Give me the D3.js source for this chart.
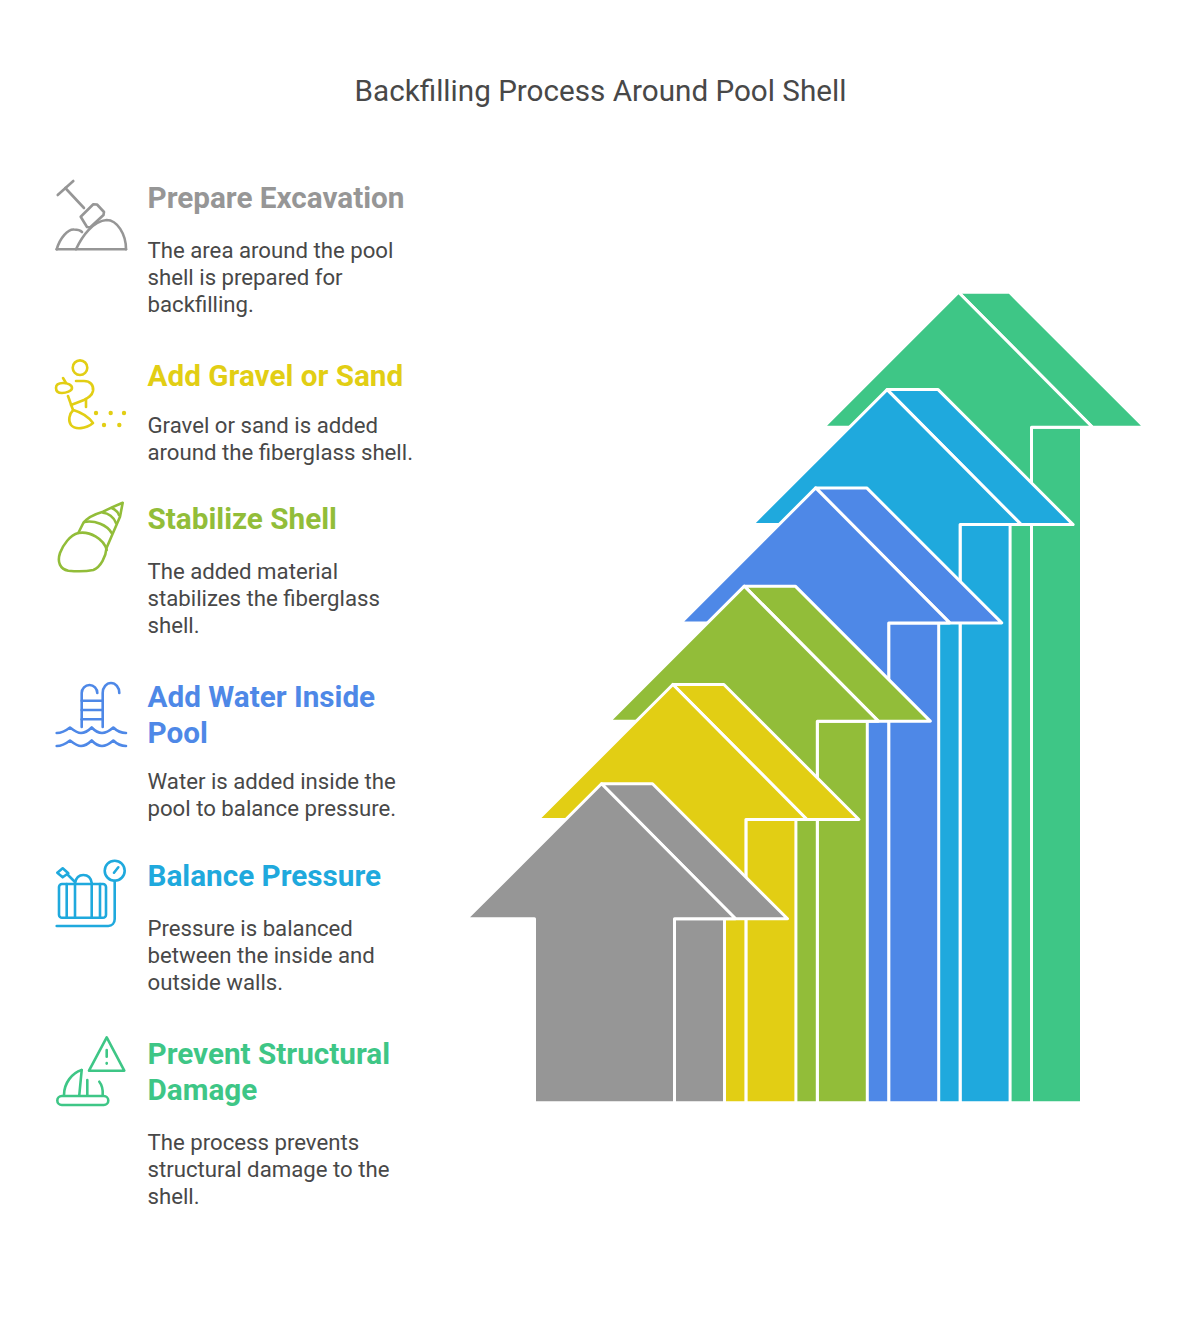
<!DOCTYPE html>
<html>
<head>
<meta charset="utf-8">
<script src="https://cdn.jsdelivr.net/npm/d3@7"></script>
<style>
  html, body { margin: 0; padding: 0; background: #fff; }
  svg { display: block; }
  text { font-family: Roboto, sans-serif; }
</style>
</head>
<body>
<div id="chart"></div>
<script>
var svgWidth = 1200;
var svgHeight = 1322;

// steps, first (front arrow) to last (back arrow)
var stepKeys = ["excavation", "gravel", "stabilize", "water", "pressure", "damage"];
var stepTitles = [
  ["Prepare Excavation"],
  ["Add Gravel or Sand"],
  ["Stabilize Shell"],
  ["Add Water Inside", "Pool"],
  ["Balance Pressure"],
  ["Prevent Structural", "Damage"]
];
var stepTexts = [
  ["The area around the pool", "shell is prepared for", "backfilling."],
  ["Gravel or sand is added", "around the fiberglass shell."],
  ["The added material", "stabilizes the fiberglass", "shell."],
  ["Water is added inside the", "pool to balance pressure."],
  ["Pressure is balanced", "between the inside and", "outside walls."],
  ["The process prevents", "structural damage to the", "shell."]
];
var stepColors = ["#969696", "#E2CE14", "#92BD39", "#4E88E7", "#1FA9DD", "#3EC686"];
// arrow height above the baseline
var arrowHeights = [318, 417, 515, 613, 711, 808];

// baseline of each block's title
var titleBaselines = [208, 386, 529, 707, 886, 1064];
var titleLeading = 36;
// title to body distance, tighter for the two line bodies
var bodyGaps = [50, 47, 50, 46, 50, 50];
var bodyLeading = 27;

var xArrow = d3.scalePoint().domain(stepKeys).range([601.5, 958.5]);
var yArrow = d3.scaleLinear().domain([0, 808]).range([1102.7, 292.3]);

var svg = d3.select("#chart")
  .append("svg")
  .attr("width", svgWidth)
  .attr("height", svgHeight);

svg.append("text")
  .attr("x", 600.5)
  .attr("y", 101)
  .attr("text-anchor", "middle")
  .attr("font-size", 29.65)
  .attr("fill", "#484848")
  .text("Backfilling Process Around Pool Shell");

// arrow shape, offsets from the apex
var head = { left: -135, top: 51, right: 186, drop: 135, ridge: 134 };
var stem = { left: -67, split: 73, right: 123 };
var line = d3.line();

function frontFace(d) {
  var x = xArrow(d.key), y = yArrow(d.height), wing = y + head.drop, base = yArrow(0);
  return line([
    [x + head.left, wing], [x, y], [x + head.ridge, wing], [x + stem.split, wing],
    [x + stem.split, base], [x + stem.left, base], [x + stem.left, wing]
  ]) + "Z";
}
function sideFace(d) {
  var x = xArrow(d.key), y = yArrow(d.height), wing = y + head.drop, base = yArrow(0);
  return line([
    [x, y], [x + head.top, y], [x + head.right, wing], [x + stem.right, wing],
    [x + stem.right, base], [x + stem.split, base], [x + stem.split, wing], [x + head.ridge, wing]
  ]) + "Z";
}

var arrowData = stepKeys.map(function(key, i) {
  return { key: key, height: arrowHeights[i], color: stepColors[i] };
}).reverse();

var arrows = svg.selectAll("g.arrow")
  .data(arrowData)
  .enter()
  .append("g")
  .attr("class", "arrow")
  .attr("fill", d => d.color)
  .attr("stroke", "#fff")
  .attr("stroke-width", 3)
  .attr("stroke-linejoin", "round");

arrows.append("path").attr("d", sideFace);
arrows.append("path").attr("d", frontFace);

// text blocks
stepKeys.forEach(function(key, i) {
  var group = svg.append("g").attr("class", "step-" + key);
  var y = titleBaselines[i];
  stepTitles[i].forEach(function(t, j) {
    group.append("text")
      .attr("x", 147.5)
      .attr("y", y + j * titleLeading)
      .attr("font-size", 29.7)
      .attr("font-weight", 700)
      .attr("fill", stepColors[i])
      .text(t);
  });
  var bodyTop = y + (stepTitles[i].length - 1) * titleLeading + bodyGaps[i];
  stepTexts[i].forEach(function(t, j) {
    group.append("text")
      .attr("x", 147.5)
      .attr("y", bodyTop + j * bodyLeading)
      .attr("font-size", 22.2)
      .attr("fill", "#484848")
      .text(t);
  });
});

// line icons
var iconPaths = [
  [
    "M57.7,195L73.3,181", "M65.3,188L84,208",
    "M80.7,216.7L93.3,204.3L97,204.5L104,212L103.5,215L90,227.5L87,227Z",
    "M56.7,249.3H126",
    "M76,249.3C82,236 93,221 106.7,220C117,220 126,234 126,249.3",
    "M56.7,249.3C60,238 68,229 74,229.5C77,229.5 80,230 82,232"
  ],
  [
    "M72.7,367.7a7.3,7.3 0 1,0 14.6,0a7.3,7.3 0 1,0 -14.6,0",
    "M76,381H84C90,381 94,385 93,391C92,396 88,398 84,400L71,405",
    "M68,396L73,410", "M86,399V407",
    "M56,388C56,384 60,383 63,383C68,383 72,385 72,388C72,391 66,393 62,393C58,393 56,391 56,388Z", "M63,378L66,383",
    "M73.3,410C69,414 68,421 71,425C75,430 86,429 93,423C88,416 80,412 73.3,410Z"
  ],
  [
    "M122.7,502.7C115,506 108,509 103,511.7C95,514 87,518 83.3,523L78.3,533C70,535 63,545 60,553C57,562 60,569 68.3,570.7C76,571.5 86,571.5 93.3,570C101,567 106,556 106.5,548L120,516.7Z",
    "M78.3,533C90,531 104,539 106.7,550",
    "M84,522C95,520 107,525 111.7,533",
    "M103,512.7C108,513 114,517 116,523",
    "M111.7,508C114,509 118,512 119,515"
  ],
  [
    "M81.7,727V693a7.8,8 0 0,1 15.6,0",
    "M102.7,727V693a8.3,10 0 0,1 16.6,0",
    "M81.7,700.7H102.7", "M81.7,710H102.7", "M81.7,719.3H102.7",
    "M56.7,733Q63,733 70,727.5Q77,733 81,733Q86,733 91.7,727.5Q97,733 102,733Q107,733 113.3,727.5Q119,733 126,733",
    "M56.7,746Q63,746 70,740.5Q77,746 81,746Q86,746 91.7,740.5Q97,746 102,746Q107,746 113.3,740.5Q119,746 126,746"
  ],
  [
    "M104.7,870.7a10,10 0 1,0 20,0a10,10 0 1,0 -20,0",
    "M114,872.7L118.3,867.3",
    "M114.7,880.7V919C114.7,923 112,926 108.3,926H56.7",
    "M62,884H103a3,3 0 0,1 3,3V914.7a3,3 0 0,1 -3,3H62a3,3 0 0,1 -3,-3V887a3,3 0 0,1 3,-3Z",
    "M66.7,884V917.7", "M75,884V917.7", "M91.7,884V917.7", "M100,884V917.7",
    "M75,883C76,878 79,875 83.3,875C88,875 91,878 91.7,883",
    "M57.3,872.7L62.7,868.3L68.3,873.3L62.7,877.3Z", "M68,875L75,882"
  ],
  [
    "M106.7,1037.3L124.3,1070.7H89Z",
    "M106.7,1050V1056.7", "M106.7,1063V1063.6",
    "M61.8,1096H103.8a4.5,4.5 0 0,1 0,9H61.8a4.5,4.5 0 0,1 0,-9Z",
    "M64,1095C64,1083 72,1073 81.7,1070", "M81.7,1070L79.3,1095",
    "M87.3,1080V1095", "M99.3,1081.7C102,1085 103,1090 102.7,1095"
  ]
];

var icons = svg.selectAll("g.icon")
  .data(iconPaths)
  .enter()
  .append("g")
  .attr("class", "icon")
  .attr("fill", "none")
  .attr("stroke", (d, i) => stepColors[i])
  .attr("stroke-width", 2.6)
  .attr("stroke-linecap", "round")
  .attr("stroke-linejoin", "round");

icons.selectAll("path")
  .data(d => d)
  .enter()
  .append("path")
  .attr("d", d => d);

// gravel dots
var gravelDots = [[96, 413], [110.7, 413], [124, 413], [104, 425], [119.3, 425]];
svg.selectAll("circle.dot")
  .data(gravelDots)
  .enter()
  .append("circle")
  .attr("class", "dot")
  .attr("cx", d => d[0])
  .attr("cy", d => d[1])
  .attr("r", 2.2)
  .attr("fill", stepColors[1]);
</script>
</body>
</html>
